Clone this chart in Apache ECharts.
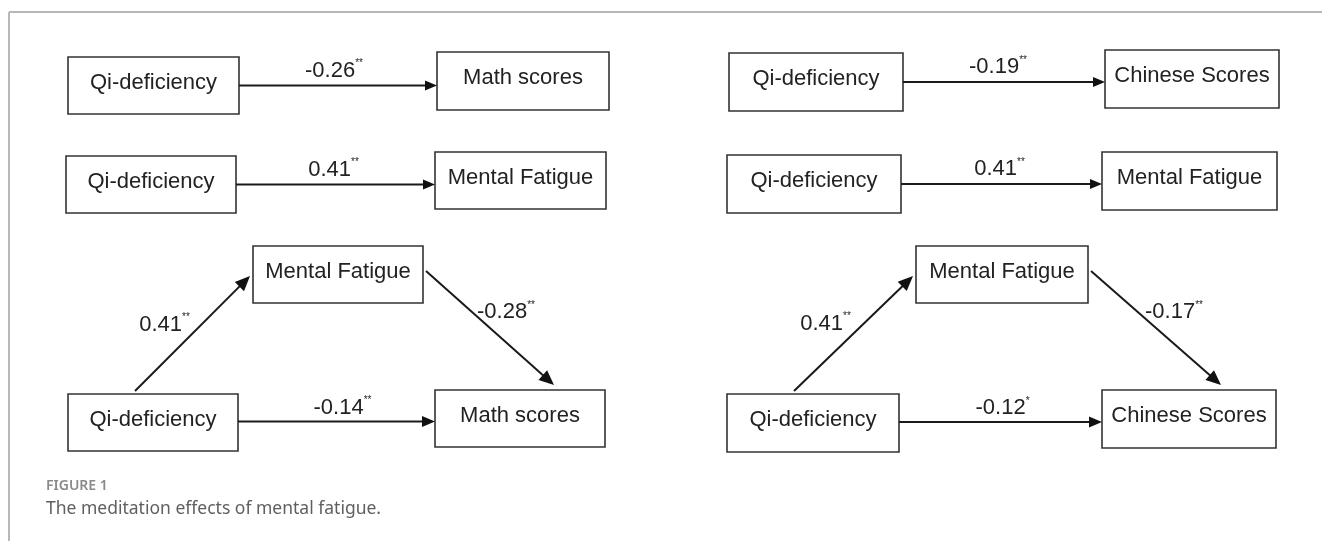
<!DOCTYPE html>
<html><head><meta charset="utf-8">
<script src="https://cdn.jsdelivr.net/npm/echarts@6/dist/echarts.min.js"></script>
<style>html,body{margin:0;padding:0;background:#fff}#c{width:1322px;height:541px}</style>
</head><body><div id="c"></div>
<script>
// ---------------- data ----------------
const outcomes = ['Math scores', 'Chinese Scores'];
const predictor = 'Qi-deficiency';
const mediator = 'Mental Fatigue';
const totalEffects = [-0.26, -0.19];
const totalSig = ['**', '**'];
const pathA = [0.41, 0.41];
const pathASig = ['**', '**'];
const pathB = [-0.28, -0.17];
const pathBSig = ['**', '**'];
const directEffects = [-0.14, -0.12];
const directSig = ['**', '*'];
const captionTitle = 'FIGURE 1';
const captionText = 'The meditation effects of mental fatigue.';

// ---------------- layout (pixel space of hidden axes) ----------------
const LAYOUT = [
  { r1Src:[68,57,171,57], r1Dst:[437,52,172,58],
    r2Src:[66,156,170,57], r2Dst:[435,152,171,57],
    med:[253,246,170,57],
    r3Src:[68,394,170,57], r3Dst:[435,390,170,57],
    off:{ r1:[-4,-15], r2:[-2,-15], a:[-28,-9], b:[16,-16], c:[6,-14] } },
  { r1Src:[729,53,174,58], r1Dst:[1105,50,174,58],
    r2Src:[727,155,174,58], r2Dst:[1102,152,175,58],
    med:[916,246,172,57],
    r3Src:[727,394,172,58], r3Dst:[1102,390,174,58],
    off:{ r1:[-6,-15], r2:[-2,-15], a:[-28,-10], b:[18,-16], c:[2,-14] } }
];

const FONT = '"Liberation Sans", Arial, sans-serif';
const fmt = v => v.toFixed(2);

const boxes = [];
const paths = [];
LAYOUT.forEach((L, p) => {
  const add = (r, name) => boxes.push({ value: r, name });
  add(L.r1Src, predictor); add(L.r1Dst, outcomes[p]);
  add(L.r2Src, predictor); add(L.r2Dst, mediator);
  add(L.med, mediator);
  add(L.r3Src, predictor); add(L.r3Dst, outcomes[p]);
  const cy = r => r[1] + r[3] / 2;
  const right = r => r[0] + r[2];
  paths.push({ value: [right(L.r1Src), cy(L.r1Src), L.r1Dst[0], cy(L.r1Src)], coef: totalEffects[p], sig: totalSig[p], off: L.off.r1, hl: 12, hw: 5 });
  paths.push({ value: [right(L.r2Src), cy(L.r2Src), L.r2Dst[0], cy(L.r2Src)], coef: pathA[p], sig: pathASig[p], off: L.off.r2, hl: 12, hw: 5 });
  paths.push({ value: [L.r3Src[0] + 67, L.r3Src[1] - 3, L.med[0] - 3, L.med[1] + 30], coef: pathA[p], sig: pathASig[p], off: L.off.a, hl: 15, hw: 6.5 });
  paths.push({ value: [right(L.med) + 3, L.med[1] + 25, L.r3Dst[0] + 119, L.r3Dst[1] - 5], coef: pathB[p], sig: pathBSig[p], off: L.off.b, hl: 15, hw: 6.5 });
  paths.push({ value: [right(L.r3Src), cy(L.r3Src) - 1, L.r3Dst[0], cy(L.r3Src) - 1], coef: directEffects[p], sig: directSig[p], off: L.off.c, hl: 13, hw: 5.5 });
});

const chart = echarts.init(document.getElementById('c'), null, { renderer: 'canvas' });
chart.setOption({
  animation: false,
  backgroundColor: '#fff',
  grid: { left: 0, right: 0, top: 0, bottom: 0 },
  xAxis: { type: 'value', min: 0, max: 1322, show: false },
  yAxis: { type: 'value', min: 0, max: 541, inverse: true, show: false },
  title: [
    { text: captionTitle, left: 46, top: 479, padding: 0,
      textStyle: { fontSize: 14, color: '#8a8a8a', fontWeight: 600, fontFamily: '"Noto Sans", sans-serif' } },
    { text: captionText, left: 46, top: 500, padding: 0,
      textStyle: { fontSize: 17.5, color: '#5f5f5f', fontWeight: 'normal', fontFamily: '"Noto Sans", sans-serif' } }
  ],
  graphic: [
    { type: 'line', shape: { x1: 9, y1: 12, x2: 1322, y2: 12 }, style: { stroke: '#b8b8b8', lineWidth: 2 } },
    { type: 'line', shape: { x1: 9, y1: 12, x2: 9, y2: 541 }, style: { stroke: '#b8b8b8', lineWidth: 2 } }
  ],
  series: [
    {
      type: 'custom', name: 'boxes', clip: false, data: boxes,
      renderItem: (params, api) => {
        const p0 = api.coord([api.value(0), api.value(1)]);
        const p1 = api.coord([api.value(0) + api.value(2), api.value(1) + api.value(3)]);
        const b = boxes[params.dataIndex];
        return { type: 'group', children: [
          { type: 'rect', shape: { x: p0[0], y: p0[1], width: p1[0] - p0[0], height: p1[1] - p0[1] },
            style: { fill: '#fff', stroke: '#333', lineWidth: 1.6 } },
          { type: 'text', style: { text: b.name, x: (p0[0] + p1[0]) / 2, y: (p0[1] + p1[1]) / 2 - 3,
            align: 'center', verticalAlign: 'middle', fill: '#222', fontSize: 22, fontFamily: FONT } }
        ] };
      }
    },
    {
      type: 'custom', name: 'paths', clip: false, data: paths,
      renderItem: (params, api) => {
        const s = api.coord([api.value(0), api.value(1)]);
        const e = api.coord([api.value(2), api.value(3)]);
        const d = paths[params.dataIndex];
        const dx = e[0] - s[0], dy = e[1] - s[1];
        const len = Math.hypot(dx, dy), ux = dx / len, uy = dy / len;
        const hl = d.hl, hw = d.hw;
        const bx = e[0] - ux * hl, by = e[1] - uy * hl;
        const mx = (s[0] + e[0]) / 2 + d.off[0], my = (s[1] + e[1]) / 2 + d.off[1];
        return { type: 'group', children: [
          { type: 'line', shape: { x1: s[0], y1: s[1], x2: bx + ux, y2: by + uy }, style: { stroke: '#1a1a1a', lineWidth: 2 } },
          { type: 'polygon', shape: { points: [[e[0], e[1]], [bx - uy * hw, by + ux * hw], [bx + uy * hw, by - ux * hw]] },
            style: { fill: '#111' } },
          { type: 'text', style: { text: '{v|' + fmt(d.coef) + '}{s|' + d.sig + '}', x: mx, y: my,
            align: 'center', verticalAlign: 'middle', fill: '#222',
            rich: { v: { fontSize: 22, fontFamily: FONT, fill: '#222', lineHeight: 24 },
                    s: { fontSize: 10, fontFamily: FONT, fill: '#222', verticalAlign: 'top', lineHeight: 10 } } } }
        ] };
      }
    }
  ]
});
</script></body></html>
